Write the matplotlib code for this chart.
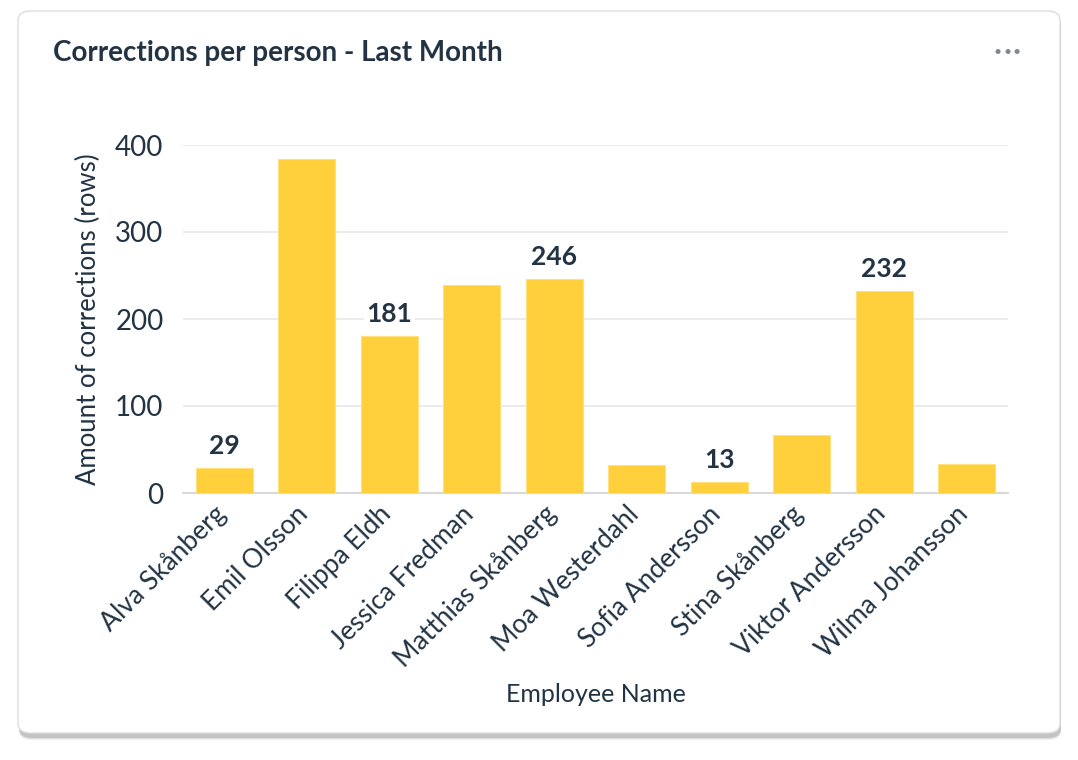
import matplotlib
matplotlib.use("Agg")
import matplotlib.pyplot as plt
import matplotlib.transforms as mtrans
from matplotlib.patches import FancyBboxPatch

names = ["Alva Skånberg", "Emil Olsson", "Filippa Eldh", "Jessica Fredman",
         "Matthias Skånberg", "Moa Westerdahl", "Sofia Andersson",
         "Stina Skånberg", "Viktor Andersson", "Wilma Johansson"]
values = [29, 384, 181, 239, 246, 32, 13, 67, 232, 33]
labeled = [True, False, True, False, True, False, True, False, True, False]

plt.rcParams['font.family'] = ['Lato', 'DejaVu Sans']
TXT = "#223344"
BAR = "#FFD03B"

W, H = 1078, 760
fig = plt.figure(figsize=(W/100, H/100), dpi=100)
fig.patch.set_facecolor("white")

# card shadow and card
for i, a in enumerate([0.05, 0.08, 0.12]):
    off = 3 - i
    sh = FancyBboxPatch(((18 + 1) / W, (H - 737 - off) / H), (1042) / W, (722) / H,
                        boxstyle="round,pad=0,rounding_size=0.012",
                        transform=fig.transFigure, facecolor="black", alpha=a,
                        edgecolor="none", zorder=0)
    fig.patches.append(sh)
card = FancyBboxPatch((18 / W, (H - 733) / H), 1042 / W, 722 / H,
                      boxstyle="round,pad=0,rounding_size=0.012",
                      transform=fig.transFigure, facecolor="white",
                      edgecolor="#dddddd", linewidth=1, zorder=1)
fig.patches.append(card)

fig.text(53 / W, 1 - 53 / H, "Corrections per person - Last Month", fontsize=20,
         fontweight="bold", color=TXT, va="center", ha="left", zorder=3)
for dx in (0, 9.5, 19):
    fig.text((998 + dx) / W, 1 - 52 / H, "•", fontsize=10, color="#7f8892",
             ha="center", va="center", zorder=3)

ax = fig.add_axes([183 / W, 1 - 493 / H, (1008 - 183) / W, (493 - 145) / H], zorder=2)
ax.set_facecolor("none")
x = list(range(len(names)))
bars = ax.bar(x, values, width=0.69, color=BAR, edgecolor="#FFE27F", linewidth=0.8, zorder=3)
ax.set_xlim(-0.5, len(names) - 0.5)
ax.set_ylim(0, 400)
ax.set_yticks([0, 100, 200, 300, 400])
ax.yaxis.grid(True, color="#e8e8e8", linewidth=1.2, zorder=0)
ax.set_axisbelow(True)
for s in ("top", "right", "left"):
    ax.spines[s].set_visible(False)
ax.spines["bottom"].set_color("#d9d9d9")
ax.spines["bottom"].set_linewidth(1.5)
ax.tick_params(axis="y", length=0, labelsize=20, colors=TXT, pad=14)
ax.tick_params(axis="x", length=0, labelsize=19, colors=TXT, pad=6)
ax.set_xticks(x)
ax.set_xticklabels(names, rotation=45, ha="right", rotation_mode="anchor")
shift = mtrans.ScaledTranslation(-11 / 100, 0, fig.dpi_scale_trans)
for lbl in ax.get_xticklabels():
    lbl.set_transform(lbl.get_transform() + shift)
ax.set_ylabel("Amount of corrections (rows)", fontsize=18.5, color=TXT, labelpad=10)
ax.set_xlabel("Employee Name", fontsize=18, color=TXT, labelpad=8)

for xi, v, lab in zip(x, values, labeled):
    if lab:
        ax.annotate(str(v), (xi, v), xytext=(0, 7), textcoords="offset points",
                    ha="center", va="bottom", fontsize=19, fontweight="bold", color=TXT,
                    bbox=dict(boxstyle="square,pad=0.1", fc="white", ec="none"), zorder=4)

fig.savefig("out.png", dpi=100, facecolor="white")
